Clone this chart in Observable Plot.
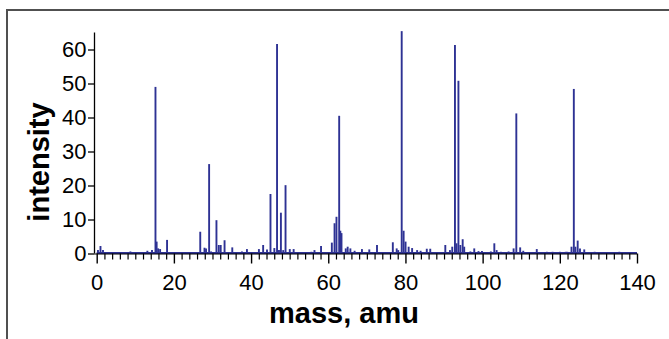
<!DOCTYPE html>
<html>
<head>
<meta charset="utf-8">
<script src="https://cdn.jsdelivr.net/npm/d3@7"></script>
<script src="https://cdn.jsdelivr.net/npm/@observablehq/plot@0.6"></script>
<style>
  html, body { margin: 0; padding: 0; background: #fff; overflow: hidden; }
  #wrap { position: relative; width: 669px; height: 339px; overflow: hidden; font-family: "Liberation Sans", Arial, sans-serif; }
  #frame { position: absolute; left: 6px; top: 9px; width: 720px; height: 400px; border: 2px solid #505050; box-sizing: border-box; }
  #chart { position: absolute; left: 0; top: 0; }
</style>
</head>
<body>
<div id="wrap"><div id="frame"></div><div id="chart"></div></div>
<script>
// Peak positions (mass, amu) and intensities
const masses = [0.2, 0.85, 1.5, 8.6, 13.0, 14.2, 15.1, 15.4, 15.8, 16.3, 18.1,
  26.7, 27.8, 28.2, 29.0, 29.5, 30.9, 31.5, 32.0, 33.0, 35.0, 37.5, 38.8,
  41.9, 43.0, 44.0, 44.9, 45.9, 46.6, 47.1, 47.6, 48.2, 48.8, 49.9, 50.9,
  55.5, 56.3, 58.0, 60.8, 61.5, 62.0, 62.7, 63.0, 63.3, 64.4, 64.9, 65.6, 66.7,
  68.6, 70.5, 72.5, 76.6, 77.6, 78.0, 78.9, 79.4, 79.9, 80.7, 81.6, 82.9, 83.8,
  85.4, 86.3, 90.2, 91.4, 92.0, 92.7, 93.1, 93.6, 94.1, 94.7, 95.1, 96.7, 97.7,
  98.8, 99.7, 102.0, 102.9, 103.5, 104.6, 106.6, 107.9, 108.6, 109.6, 110.4,
  113.9, 116.5, 118.0, 119.9, 121.4, 121.8, 122.9, 123.5, 123.9, 124.5, 125.1,
  126.2, 128.9, 135.3];
const intensities = [1.0, 2.2, 1.0, 0.6, 0.8, 1.0, 49.0, 3.5, 1.5, 1.3, 4.0,
  6.4, 1.7, 1.5, 26.3, 0.6, 9.8, 2.5, 2.5, 3.9, 1.8, 0.6, 1.3,
  1.3, 2.5, 1.2, 17.5, 1.6, 61.6, 1.0, 12.0, 1.0, 20.1, 1.3, 1.3,
  0.5, 1.0, 2.2, 3.2, 8.9, 10.8, 40.5, 6.7, 6.0, 1.5, 2.0, 1.5, 0.8,
  1.3, 1.2, 2.5, 3.3, 1.5, 1.0, 65.4, 6.7, 3.5, 2.0, 1.6, 1.0, 0.8,
  1.4, 1.4, 2.5, 1.0, 2.0, 61.3, 3.0, 50.8, 2.5, 4.2, 2.0, 0.6, 1.5,
  0.7, 0.7, 0.6, 3.0, 1.0, 0.5, 0.6, 1.5, 41.2, 1.8, 0.8,
  1.3, 0.5, 0.5, 0.5, 0.5, 0.5, 2.0, 48.4, 2.0, 3.8, 1.5,
  1.2, 0.5, 0.5];
const xMajorTicks = [0, 20, 40, 60, 80, 100, 120, 140];
const xMinorTicks = d3.range(0, 141, 2).filter(v => v % 20 !== 0);
const yTicks = [0, 10, 20, 30, 40, 50, 60];
const xLabel = "mass, amu";
const yLabel = "intensity";
const baselineLevel = [0.3];

const peaks = masses.map((m, i) => ({mass: m, intensity: intensities[i]}));
const blue = "#2e3294";

const chart = Plot.plot({
  width: 669,
  height: 339,
  marginLeft: 94,
  marginRight: 32,
  marginTop: 32.5,
  marginBottom: 85.5,
  style: {fontFamily: "Liberation Sans, Arial, sans-serif", color: "#000", background: "transparent", overflow: "visible"},
  x: {domain: [-0.7, 140]},
  y: {domain: [0, 65]},
  marks: [
    Plot.ruleY(baselineLevel, {x1: 0, x2: 140, stroke: blue, strokeWidth: 1.8}),
    Plot.ruleX(peaks, {x: "mass", y1: 0, y2: "intensity", stroke: blue, strokeWidth: 1.9}),
    Plot.ruleY([0], {x1: -0.7, x2: 140, stroke: "#000", strokeWidth: 1.2}),
    Plot.ruleX([-0.7], {y1: 0, y2: 65, stroke: "#000", strokeWidth: 1.3}),
    Plot.axisY({ticks: yTicks, tickSize: 6, tickPadding: 2, fontSize: 22, label: null, strokeWidth: 1.3}),
    Plot.axisX({ticks: xMajorTicks, tickSize: 10, tickPadding: 10, fontSize: 22, label: null, strokeWidth: 1.4}),
    Plot.axisX({ticks: xMinorTicks, tickSize: 6, text: null, label: null, strokeWidth: 1.2})
  ]
});

const svg = d3.select(chart);
svg.append("text")
  .attr("x", 344).attr("y", 323)
  .attr("text-anchor", "middle")
  .attr("font-size", 29).attr("font-weight", "bold")
  .attr("fill", "#000")
  .text(xLabel);
svg.append("text")
  .attr("transform", "translate(49,162) rotate(-90)")
  .attr("text-anchor", "middle")
  .attr("font-size", 29).attr("font-weight", "bold")
  .attr("fill", "#000")
  .text(yLabel);

document.getElementById("chart").appendChild(chart);
</script>
</body>
</html>
